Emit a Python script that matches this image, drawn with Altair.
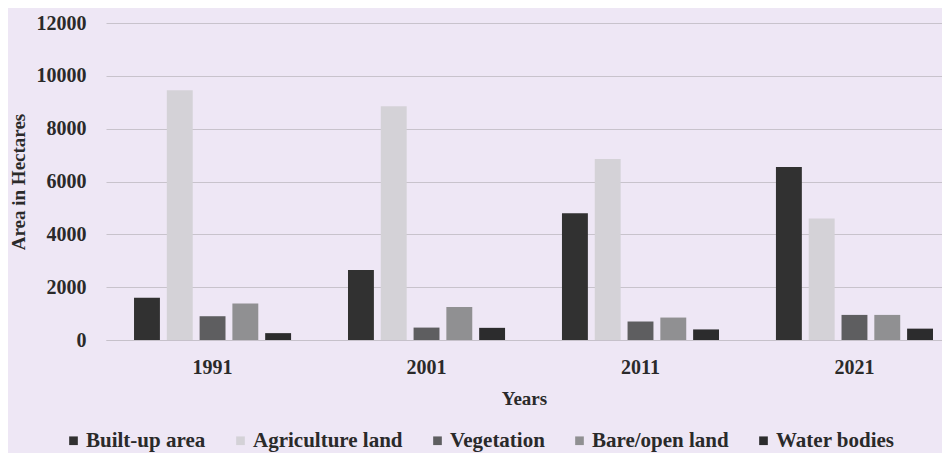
import altair as alt
import pandas as pd

years = ["1991", "2001", "2011", "2021"]
classes = ["Built-up area", "Agriculture land", "Vegetation", "Bare/open land", "Water bodies"]
built_up = [1600, 2650, 4800, 6550]
agriculture = [9450, 8850, 6850, 4600]
vegetation = [900, 470, 700, 950]
bare_open = [1380, 1250, 850, 950]
water = [260, 460, 400, 430]
colors = ["#313131", "#d4d2d7", "#5e5e60", "#909092", "#2c2c2d"]

series = [built_up, agriculture, vegetation, bare_open, water]
rows = []
for cls, vals in zip(classes, series):
    for yr, v in zip(years, vals):
        rows.append({"Year": yr, "Class": cls, "Area": v})
df = pd.DataFrame(rows)

FONT = "Times New Roman, Liberation Serif, DejaVu Serif, serif"

chart = alt.Chart(df).mark_bar().encode(
    x=alt.X("Year:N", sort=years,
            scale=alt.Scale(paddingInner=0.266, paddingOuter=0.0865, align=0.757),
            axis=alt.Axis(title="Years", labelAngle=0, ticks=False, domain=True,
                          domainColor="#c6c1ca", labelPadding=17, titlePadding=12,
                          labelFontSize=20, titleFontSize=19)),
    xOffset=alt.XOffset("Class:N", sort=classes, scale=alt.Scale(paddingInner=0.21)),
    y=alt.Y("Area:Q", scale=alt.Scale(domain=[0, 12000]),
            axis=alt.Axis(title="Area in Hectares", values=[0, 2000, 4000, 6000, 8000, 10000, 12000],
                          format="d", ticks=False, domain=False, labelPadding=20,
                          titlePadding=8, gridColor="#c8c3cc",
                          labelFontSize=20, titleFontSize=19)),
    color=alt.Color("Class:N", sort=classes,
                    scale=alt.Scale(domain=classes, range=colors),
                    legend=alt.Legend(title=None, orient="none", legendX=-43, legendY=407,
                                      direction="horizontal",
                                      symbolType="square", symbolSize=75,
                                      symbolStrokeWidth=0, labelFontSize=21, labelOffset=2,
                                      columnPadding=24, labelLimit=400)),
).properties(
    width=836, height=317,
    background="#eee7f5",
    padding={"left": 1, "top": 5, "right": 0, "bottom": 2},
).configure(font=FONT).configure_view(stroke=None).configure_axis(
    labelFont=FONT, titleFont=FONT, labelFontWeight="bold", titleFontWeight="bold",
    labelColor="#2a2a2a", titleColor="#2a2a2a",
).configure_legend(
    labelFont=FONT, labelFontWeight="bold", labelColor="#2a2a2a",
)

chart.save("out.html", embed_options={"renderer": "svg", "actions": False})
